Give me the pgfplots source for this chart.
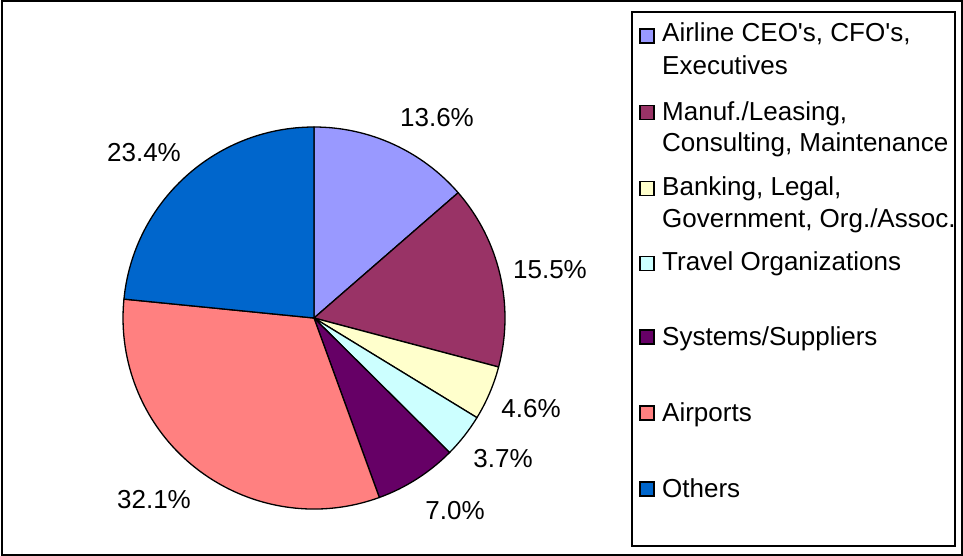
\documentclass[border=0pt]{standalone}
\usepackage{fontspec}
\setmainfont{Liberation Sans}
\usepackage{pgfplots}
\usepackage{pgfplotstable}
\pgfplotsset{compat=1.18}
\definecolor{c1}{HTML}{9999FF}
\definecolor{c2}{HTML}{993366}
\definecolor{c3}{HTML}{FFFFCC}
\definecolor{c4}{HTML}{CCFFFF}
\definecolor{c5}{HTML}{660066}
\definecolor{c6}{HTML}{FF8080}
\definecolor{c7}{HTML}{0066CC}
% share (%), colour, label x, label y (pixel positions of the value labels)
\pgfplotstableread{
value color lx ly
13.6 c1 437 118
15.5 c2 550 270
4.6 c3 531 409
3.7 c4 503 459
7.0 c5 455 511
32.1 c6 154 500
23.4 c7 144 153
}\piedata
\newcommand\q{\textquotesingle}
\begin{document}
\begin{tikzpicture}
\begin{axis}[
  x=1pt, y=1pt, xmin=0, xmax=963, ymin=0, ymax=556, y dir=reverse,
  hide axis, clip=false, scale only axis,
]
\path (axis cs:0,0) rectangle (axis cs:963,556);
\draw[line width=2pt] (axis cs:1.5,1.5) rectangle (axis cs:961.5,554.5);
\def\cum{90}
\pgfplotsforeachungrouped \i in {0,...,6}{%
  \pgfplotstablegetelem{\i}{value}\of\piedata \let\v\pgfplotsretval
  \pgfplotstablegetelem{\i}{color}\of\piedata \let\c\pgfplotsretval
  \pgfplotstablegetelem{\i}{lx}\of\piedata \let\lx\pgfplotsretval
  \pgfplotstablegetelem{\i}{ly}\of\piedata \let\ly\pgfplotsretval
  \pgfmathsetmacro\e{\cum-\v*360/99.9}%
  \edef\temp{\noexpand\filldraw[fill=\c, draw=black, line width=1.3pt, line join=round]
     (axis cs:314,318) -- ++(\cum:191pt) arc[start angle=\cum, end angle=\e, radius=191pt] -- cycle;
     \noexpand\node[font=\noexpand\fontsize{26}{30}\noexpand\selectfont, inner sep=0pt] at (axis cs:\lx,\ly) {\v\noexpand\%};}%
  \temp
  \global\let\cum\e
}
% legend
\draw[line width=2pt, fill=white] (axis cs:632,12) rectangle (axis cs:955,546);
\pgfplotsforeachungrouped \c/\yb in {c1/43, c2/119.5, c3/195.5, c4/270.5, c5/344, c6/420, c7/496}{%
  \edef\temp{\noexpand\filldraw[fill=\c, draw=black, line width=1.3pt] (axis cs:640,\yb) rectangle (axis cs:654,\yb-14);}%
  \temp
}
\begin{scope}[every node/.style={anchor=base west, inner sep=0pt, font=\fontsize{26}{30}\selectfont}]
\node at (axis cs:662,42) {Airline CEO\q s, CFO\q s,};
\node at (axis cs:662,75) {Executives};
\node at (axis cs:662,121) {Manuf./Leasing,};
\node at (axis cs:662,152) {Consulting, Maintenance};
\node at (axis cs:662,196) {Banking, Legal,};
\node at (axis cs:662,227) {Government, Org./Assoc.};
\node at (axis cs:662,270) {Travel Organizations};
\node at (axis cs:662,345) {Systems/Suppliers};
\node at (axis cs:662,421) {Airports};
\node at (axis cs:662,497) {Others};
\end{scope}
\end{axis}
\end{tikzpicture}
\end{document}
